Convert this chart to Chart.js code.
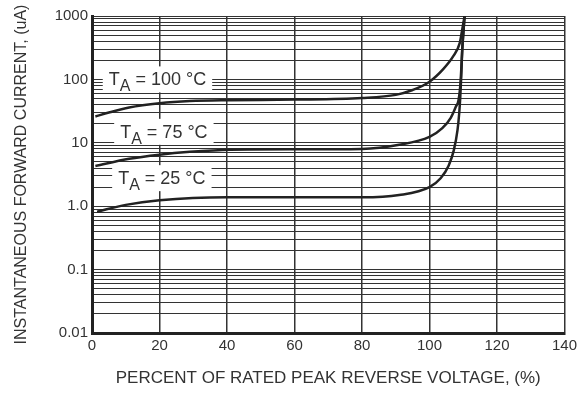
<!DOCTYPE html>
<html>
<head>
<meta charset="utf-8">
<script src="https://cdn.jsdelivr.net/npm/chart.js@4.4.1/dist/chart.umd.min.js"></script>
<style>
  html, body { margin: 0; padding: 0; background: #fff; }
  #wrap { width: 581px; height: 393px; }
</style>
</head>
<body>
<div id="wrap"><canvas id="chart" width="581" height="393"></canvas></div>
<script>
// curve readings, x = % of rated peak reverse voltage, y = current (uA)
const t100X = [1, 5, 11, 20, 29, 41, 60, 80, 90, 95, 100, 104, 107, 109, 109.7, 110.4];
const t100Y = [26, 30, 36, 42, 45.5, 47, 48, 51, 57, 68, 92, 144, 230, 380, 615, 1000];

const t75X = [1, 11, 20, 29, 41, 60, 80, 91, 100, 103.8, 106.3, 107.8, 108.6, 109.2, 109.7, 110.4];
const t75Y = [4.3, 5.6, 6.5, 7.2, 7.8, 7.9, 8.0, 9.3, 12.4, 17, 24.8, 37, 47, 90, 290, 1000];

const t25X = [1.5, 10, 20, 40, 60, 80, 91, 100, 103.3, 105.7, 107.2, 108.3, 108.8, 109.1, 109.4, 109.7, 110.4];
const t25Y = [0.82, 1.05, 1.24, 1.38, 1.38, 1.38, 1.5, 2.0, 2.76, 4.4, 7.6, 15.8, 29, 50, 110, 290, 1000];

const yDecades = [0.01, 0.1, 1, 10, 100, 1000];
const yTickLabels = ["0.01", "0.1", "1.0", "10", "100", "1000"];

// curve labels, placed in data units
const curveLabels = [
  { temp: "100", x: 19.4, y: 100 },
  { temp: "75", x: 21.3, y: 14.9 },
  { temp: "25", x: 20.7, y: 2.77 }
];

const FONT = "Arial, 'Liberation Sans', sans-serif";
const INK = "#222";

function toPoints(xs, ys) {
  return xs.map((x, i) => ({ x, y: ys[i] }));
}

function curve(xs, ys) {
  return {
    data: toPoints(xs, ys),
    borderColor: INK,
    borderWidth: 2.5,
    pointRadius: 0,
    fill: false,
    cubicInterpolationMode: "monotone"
  };
}

const labelPlugin = {
  id: "curveLabels",
  beforeDatasetsDraw(chart) {
    const { ctx, scales } = chart;
    ctx.save();
    curveLabels.forEach((lab) => {
      const cx = scales.x.getPixelForValue(lab.x);
      const cy = scales.y.getPixelForValue(lab.y);
      const big = "18px " + FONT;
      const sub = "16px " + FONT;
      const rest = " = " + lab.temp + " \u00B0C";
      ctx.font = big;
      const wT = ctx.measureText("T").width;
      const wRest = ctx.measureText(rest).width;
      ctx.font = sub;
      const wA = ctx.measureText("A").width;
      const total = wT + wA + wRest;
      const x0 = cx - total / 2;
      ctx.fillStyle = "#fff";
      ctx.fillRect(x0 - 6, cy - 13, total + 12, 26);
      ctx.fillStyle = "#333";
      ctx.textBaseline = "alphabetic";
      ctx.textAlign = "left";
      ctx.font = big;
      ctx.fillText("T", x0, cy + 6);
      ctx.font = sub;
      ctx.fillText("A", x0 + wT, cy + 12);
      ctx.font = big;
      ctx.fillText(rest, x0 + wT + wA, cy + 6);
    });
    ctx.restore();
  }
};

new Chart(document.getElementById("chart"), {
  type: "line",
  data: {
    datasets: [curve(t100X, t100Y), curve(t75X, t75Y), curve(t25X, t25Y)]
  },
  options: {
    responsive: false,
    animation: false,
    layout: { padding: { top: 16, right: 16, left: 0, bottom: 0 } },
    plugins: { legend: { display: false }, tooltip: { enabled: false } },
    scales: {
      x: {
        type: "linear",
        min: 0,
        max: 140,
        afterFit(scale) { scale.height = 60; },
        ticks: { stepSize: 20, padding: 4, color: "#333", font: { family: FONT, size: 15 } },
        grid: { color: "#333", lineWidth: 1.5, drawTicks: false },
        border: { color: INK, width: 3 },
        title: {
          display: true,
          text: "PERCENT OF RATED PEAK REVERSE VOLTAGE, (%)",
          color: "#333",
          font: { family: FONT, size: 17 },
          padding: { top: 0, bottom: 4 }
        }
      },
      y: {
        type: "logarithmic",
        min: 0.01,
        max: 1000,
        afterFit(scale) { scale.width = 92; },
        afterBuildTicks(scale) {
          const ticks = [];
          yDecades.forEach((d, i) => {
            if (i === yDecades.length - 1) { ticks.push({ value: d }); return; }
            for (let m = 1; m <= 9; m++) ticks.push({ value: +(d * m).toPrecision(3) });
          });
          scale.ticks = ticks;
        },
        ticks: {
          padding: 4,
          color: "#333",
          font: { family: FONT, size: 15 },
          autoSkip: false,
          callback(value) {
            const i = yDecades.findIndex((d) => Math.abs(d - value) / d < 1e-6);
            return i >= 0 ? yTickLabels[i] : "";
          }
        },
        grid: { color: "#333", lineWidth: 1, drawTicks: false },
        border: { color: INK, width: 3 },
        title: {
          display: true,
          text: "INSTANTANEOUS FORWARD CURRENT, (uA)",
          color: "#333",
          font: { family: FONT, size: 16 },
          padding: { top: 12, bottom: 0 }
        }
      }
    }
  },
  plugins: [labelPlugin]
});
</script>
</body>
</html>
